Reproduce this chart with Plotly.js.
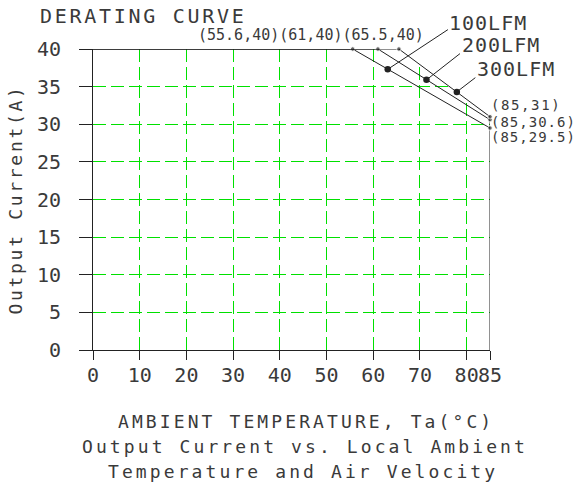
<!DOCTYPE html>
<html><head><meta charset="utf-8">
<script src="https://cdn.plot.ly/plotly-3.0.1.min.js"></script>
<style>
html,body{margin:0;padding:0;background:#fff;}
#chart{width:577px;height:497px;}
.gtitle{letter-spacing:2.7px;}
.ytitle{letter-spacing:2.7px;}
.gridlayer path, .minor-gridlayer path{shape-rendering:crispEdges !important;}
</style>
</head><body><div id="chart"></div>
<script>
// ---- data ----
const seriesNames = ['100LFM', '200LFM', '300LFM'];
const startTemp = [0, 0, 0];
const flatCurrent = [40, 40, 40];
const kneeTemp = [55.6, 61, 65.5];
const endTemp = [85, 85, 85];
const endCurrent = [29.5, 30.6, 31];
const calloutTemp = [63.1, 71.4, 77.9];
const calloutCurrent = [37.3, 35.9, 34.3];
const xTickVals = [0, 10, 20, 30, 40, 50, 60, 70, 80, 85];
const yTickVals = [0, 5, 10, 15, 20, 25, 30, 35, 40];
const kneeLabel = '(55.6,40)(61,40)(65.5,40)';
const endLabels = ['(85,29.5)', '(85,30.6)', '(85,31)'];

const FONT = 'DejaVu Sans Mono';
const INK = '#222';
const TXT = '#3a3a3a';
const GRID = '#00e000';

const xMin = xTickVals[0], xMax = xTickVals[xTickVals.length - 1];
const yMin = yTickVals[0], yMax = yTickVals[yTickVals.length - 1];
const xGrid = xTickVals.filter(v => v > xMin && v < xMax);
const yGrid = yTickVals.filter(v => v > yMin && v < yMax);
const outer = endCurrent.indexOf(Math.max(...endCurrent));

const traces = [];
// mask the grid above the outermost curve
traces.push({
  x: [kneeTemp[outer], endTemp[outer], endTemp[outer]],
  y: [flatCurrent[outer], flatCurrent[outer], endCurrent[outer]],
  mode: 'lines', fill: 'toself', fillcolor: '#ffffff',
  line: {width: 0, color: 'rgba(0,0,0,0)'}, hoverinfo: 'skip', showlegend: false
});
// right boundary line
traces.push({
  x: [xMax, xMax], y: [yMin, endCurrent[outer]],
  mode: 'lines', line: {color: INK, width: 1}, hoverinfo: 'skip', showlegend: false
});
seriesNames.forEach((n, i) => {
  traces.push({
    name: n,
    x: [startTemp[i], kneeTemp[i], endTemp[i]],
    y: [flatCurrent[i], flatCurrent[i], endCurrent[i]],
    mode: 'lines+markers',
    line: {color: INK, width: 1},
    marker: {color: INK, size: [0, 4.5, 4.5]},
    cliponaxis: false, showlegend: false
  });
});
traces.push({
  x: calloutTemp, y: calloutCurrent, mode: 'markers',
  marker: {color: INK, size: 6.5}, cliponaxis: false, showlegend: false, hoverinfo: 'skip'
});

// plot geometry: l=93, r=87, t=49, b=147
const L = 93, R = 577 - 87, T = 49, B = 350;
const px2paperX = p => (p - L) / (R - L);
const px2paperY = p => (B - p) / (B - T);

const annotations = [];
function txt(text, left, mid, size, spacing) {
  annotations.push({
    text: text, xref: 'paper', yref: 'paper', x: px2paperX(left), y: px2paperY(mid),
    xanchor: 'left', yanchor: 'middle', align: 'left', showarrow: false,
    font: {family: FONT, size: size, color: TXT}, _sp: spacing
  });
}
txt('AMBIENT TEMPERATURE, Ta(°C)', 116, 421.5, 18, 3.1);
txt('Output Current vs. Local Ambient', 80, 446.5, 18, 3.1);
txt('Temperature and Air Velocity', 106, 471.5, 18, 3.1);
txt(kneeLabel, 196, 34.5, 15, 0);
txt(endLabels[2], 489, 105.5, 14, 1.6);
txt(endLabels[1], 489, 122, 14, 1.0);
txt(endLabels[0], 489, 136.5, 14, 1.0);
txt(seriesNames[0], 447, 22.5, 20, 1);
txt(seriesNames[1], 460, 45.5, 20, 1);
txt(seriesNames[2], 475, 69.5, 20, 1);

// leader lines (callout dot -> label)
const leaderOffsets = [[61.7, -40.7], [35, -27.4], [20, -15.4]];
calloutTemp.forEach((t, i) => {
  annotations.push({
    x: t, y: calloutCurrent[i], xref: 'x', yref: 'y', text: '',
    showarrow: true, arrowhead: 0, arrowwidth: 1, arrowcolor: INK,
    ax: leaderOffsets[i][0], ay: leaderOffsets[i][1], standoff: 0, startstandoff: 0
  });
});

const spacings = annotations.map(a => a._sp || 0);
annotations.forEach(a => delete a._sp);

const layout = {
  width: 577, height: 497,
  margin: {l: L, r: 577 - R, t: T, b: 497 - B, pad: 0},
  paper_bgcolor: '#fff', plot_bgcolor: '#fff',
  showlegend: false,
  title: {
    text: 'DERATING CURVE', font: {family: FONT, size: 20, color: TXT},
    xref: 'container', yref: 'container', x: 40 / 577, xanchor: 'left',
    y: 1 - 15.5 / 497, yanchor: 'middle'
  },
  xaxis: {
    range: [xMin, xMax], tickmode: 'array', tickvals: xTickVals,
    ticktext: xTickVals.map(String), ticks: 'outside', ticklen: 9, tickwidth: 1,
    tickcolor: INK, showline: true, linecolor: INK, linewidth: 1,
    showgrid: false, zeroline: false, tickangle: 0,
    tickfont: {family: FONT, size: 20, color: TXT}, ticklabelstandoff: -2,
    minor: {tickmode: 'array', tickvals: xGrid, showgrid: true, gridcolor: GRID,
            gridwidth: 1, griddash: '13px,5px', ticks: ''},
    fixedrange: true
  },
  yaxis: {
    range: [yMin, yMax], tickmode: 'array', tickvals: yTickVals,
    ticktext: yTickVals.map(String), ticks: 'outside', ticklen: 13, tickwidth: 1,
    tickcolor: INK, showline: true, linecolor: INK, linewidth: 1,
    showgrid: false, zeroline: false,
    tickfont: {family: FONT, size: 20, color: TXT}, ticklabelstandoff: 14,
    title: {text: 'Output Current(A)', font: {family: FONT, size: 18, color: TXT}, standoff: 9},
    minor: {tickmode: 'array', tickvals: yGrid, showgrid: true, gridcolor: GRID,
            gridwidth: 1, griddash: '13px,5px', ticks: ''},
    fixedrange: true
  },
  annotations: annotations
};

Plotly.newPlot('chart', traces, layout, {displayModeBar: false, staticPlot: true}).then(gd => {
  const nodes = gd.querySelectorAll('.annotation');
  nodes.forEach((g, i) => {
    const t = g.querySelector('.annotation-text');
    if (t && spacings[i]) t.style.letterSpacing = spacings[i] + 'px';
  });
  gd.querySelectorAll('path').forEach(p => {
    const s = p.style.stroke || '';
    if (p.getAttribute('class') && /grid/.test(p.getAttribute('class'))) {
      p.style.shapeRendering = 'crispEdges';
    }
  });
});
</script>
</body></html>
